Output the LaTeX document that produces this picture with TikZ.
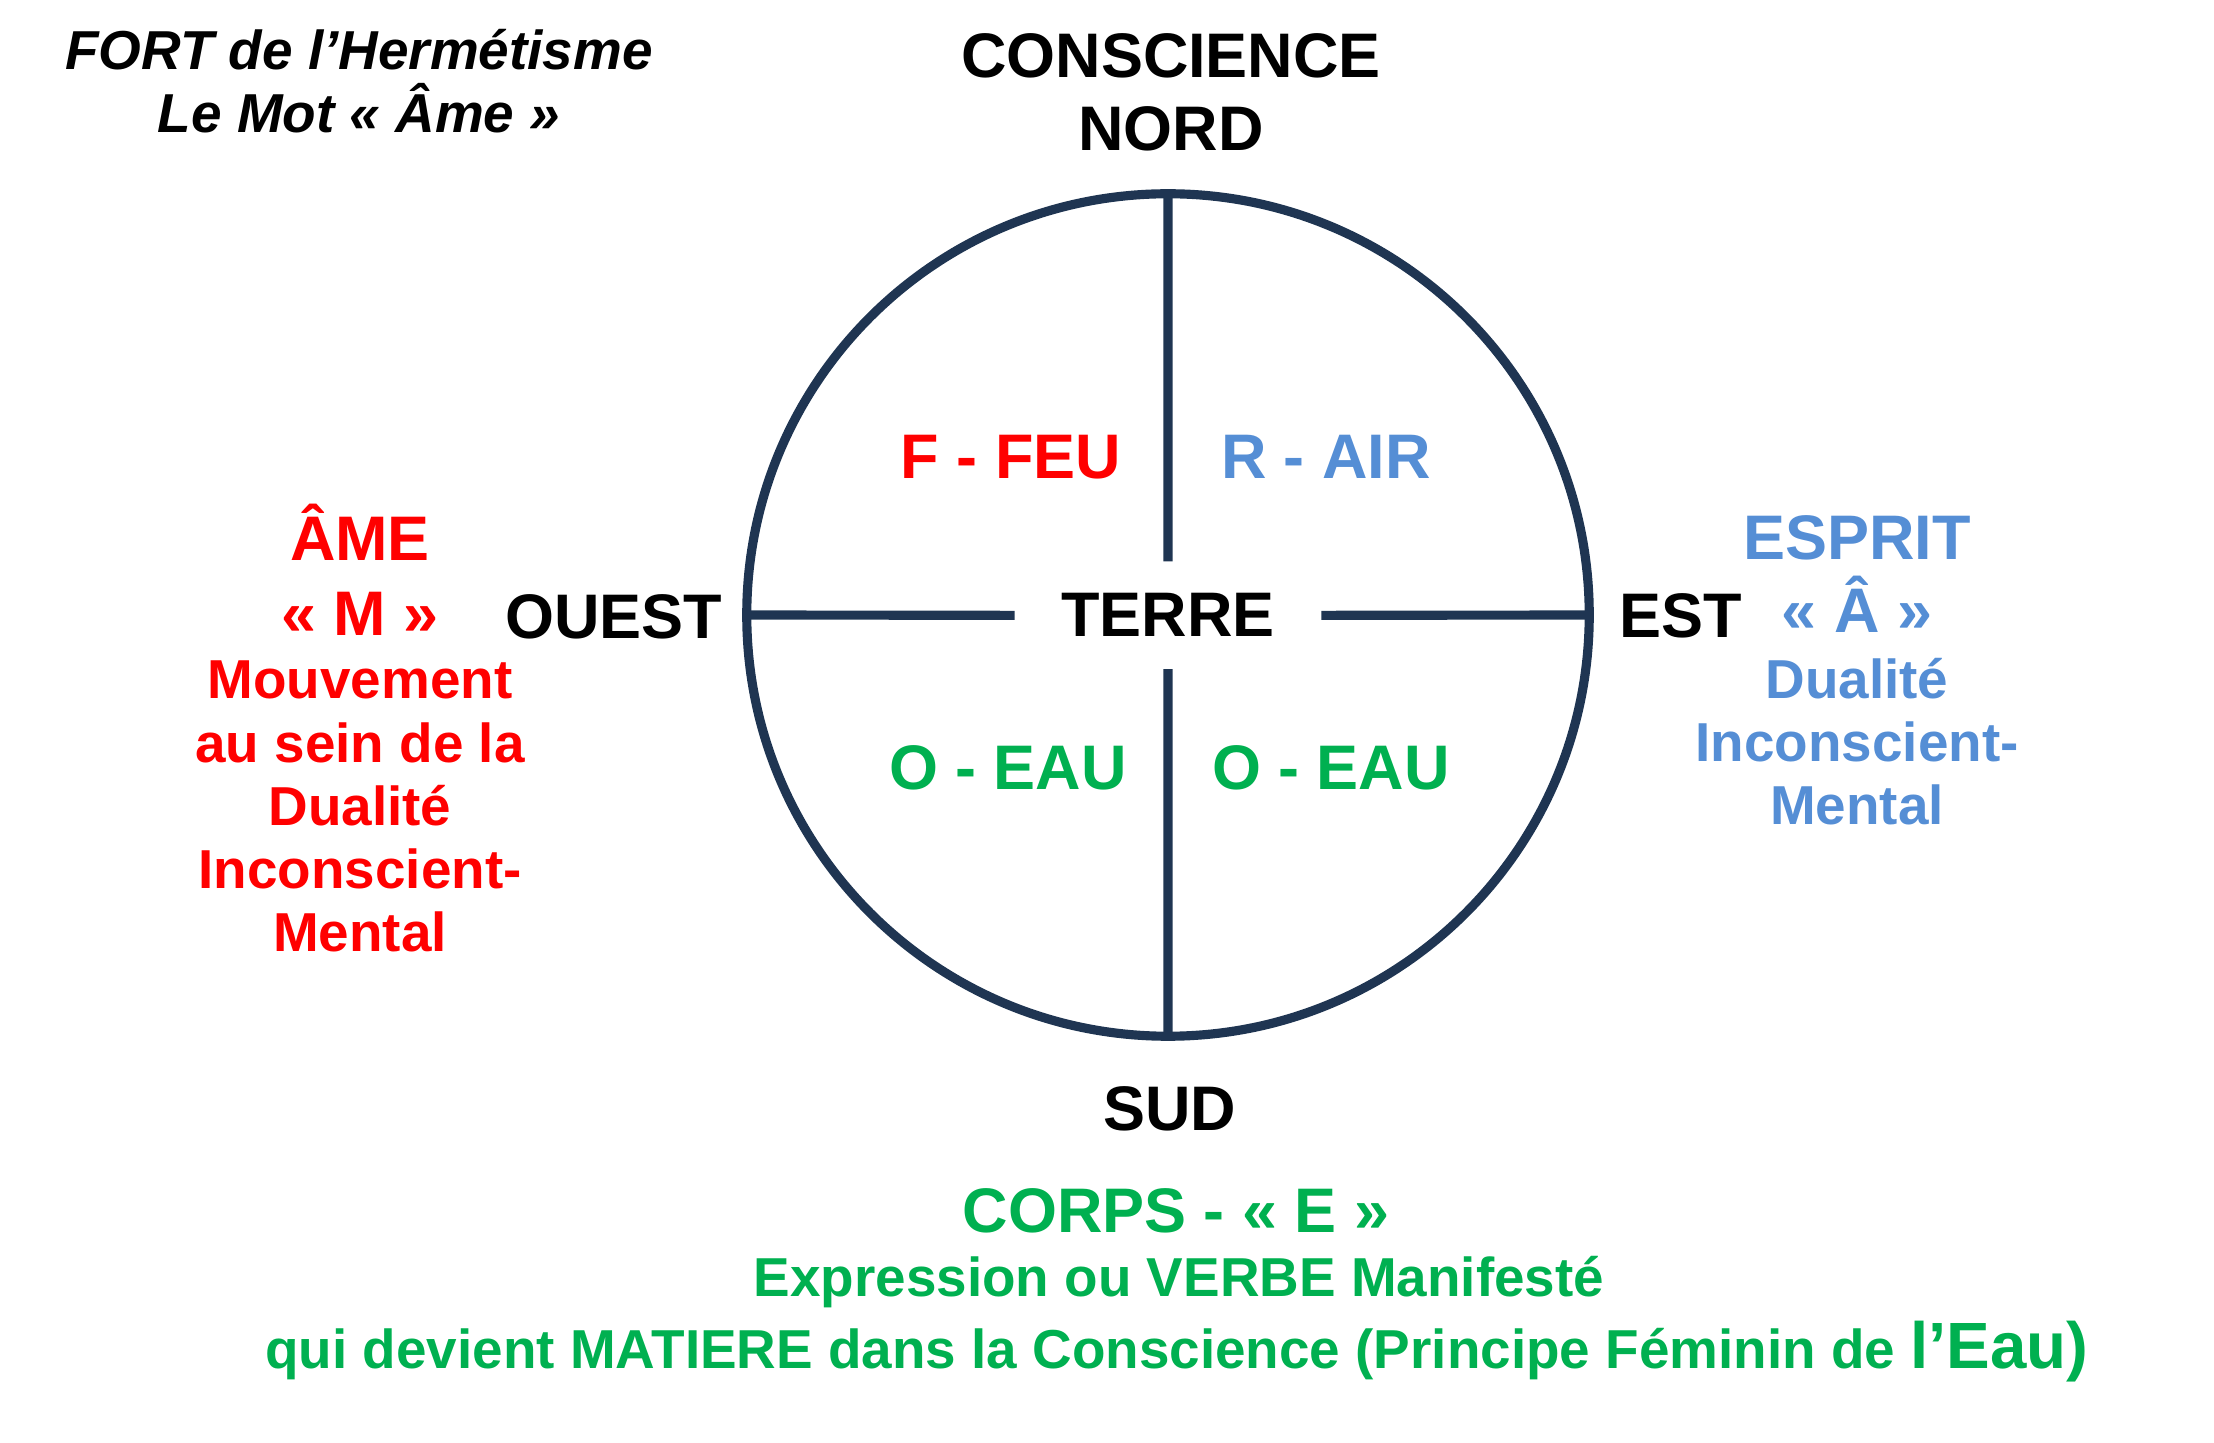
\documentclass[tikz,border=0pt]{standalone}
\usepackage{fontspec}
\setmainfont{Liberation Sans}
\usepackage{xcolor}
\usetikzlibrary{positioning}
\definecolor{navy}{HTML}{1F3552}
\definecolor{feu}{HTML}{FF0000}
\definecolor{air}{HTML}{558ED5}
\definecolor{eau}{HTML}{00B050}
\tikzset{
  big/.style={font=\fontsize{17.9}{20.8}\selectfont\bfseries, inner sep=0pt, align=center, anchor=base},
  small/.style={font=\fontsize{15.6}{18}\selectfont\bfseries, inner sep=0pt, align=center, anchor=base},
  axis/.style={draw=navy, line width=2.6pt},
  ring/.style={circle, draw=navy, line width=2.6pt, minimum size=8.42cm, inner sep=0pt, outer sep=0pt},
}

\begin{document}
\begin{tikzpicture}[x=0.01cm, y=-0.01cm]
\useasboundingbox (0,0) rectangle (2214,1443);
% titre
\node[small, font=\fontsize{15.6}{18}\selectfont\bfseries\itshape] (titre) at (359,133) {FORT de l’Hermétisme\\Le Mot « Âme »};
\node[big] (nord) at (1171,150.5) {CONSCIENCE\\NORD};
% cercle et croix
\node[ring] (ring) at (1168,615) {};
\node[big, inner xsep=0.46cm, inner ysep=0.315cm] (terre) at (1168,637) {TERRE};
\draw[axis] (ring.north) -- (terre.north) (terre.south) -- (ring.south)
            (ring.west) -- (terre.west) (terre.east) -- (ring.east);
\node[big, text=feu] (feu) at (1011,479) {F - FEU};
\node[big, text=air] (air) at (1326,479) {R - AIR};
\node[big, text=eau] (eauo) at (1008,790) {O - EAU};
\node[big, text=eau] (eaue) at (1331,790) {O - EAU};
% points cardinaux
\node[big] (ouest) at (613.5,639) {OUEST};
\node[big] (est)   at (1681,638)  {EST};
\node[big] (sud)   at (1170,1130) {SUD};
% ame
\node[big, text=feu, font=\fontsize{17.9}{21.6}\selectfont\bfseries] (ame) at (360,636) {ÂME\\« M »};
\node[small, text=feu] (amedesc) at (360,952) {Mouvement\\au sein de la\\Dualité\\Inconscient-\\Mental};
% esprit
\node[big, text=air] (esprit) at (1857,633) {ESPRIT\\« Â »};
\node[small, text=air] (espritdesc) at (1857,825) {Dualité\\Inconscient-\\Mental};
% corps
\node[big, text=eau] (corps) at (1176,1232) {CORPS - « E »};
\node[small, text=eau] (expr) at (1179,1297) {Expression ou VERBE Manifesté};
\node[small, text=eau] (matiere) at (1177,1368) {qui devient MATIERE dans la Conscience (Principe Féminin de {\fontsize{18.6}{20.8}\selectfont l’Eau)}};
\end{tikzpicture}
\end{document}
